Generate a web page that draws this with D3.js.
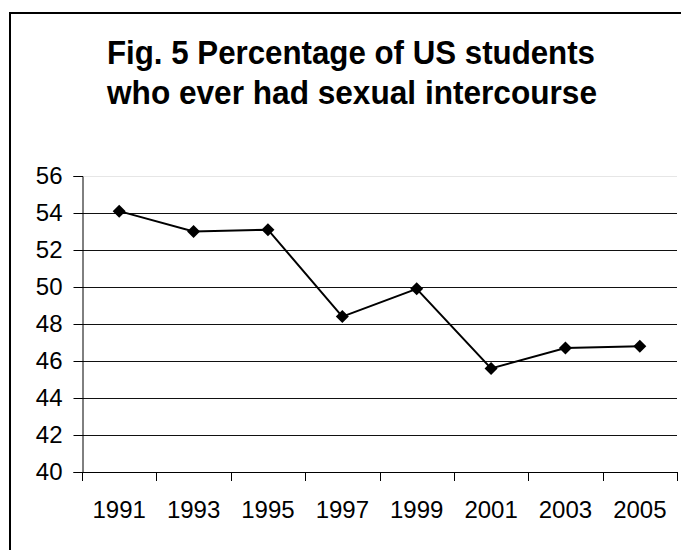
<!DOCTYPE html>
<html>
<head>
<meta charset="utf-8">
<script src="https://cdn.jsdelivr.net/npm/d3@7"></script>
<style>
  html, body { margin: 0; padding: 0; background: #fff; }
  svg { display: block; }
  text { font-family: "Liberation Sans", Arial, Helvetica, sans-serif; fill: #000; }
</style>
</head>
<body>
<svg id="chart" width="681" height="550"></svg>
<script>
const years = ["1991", "1993", "1995", "1997", "1999", "2001", "2003", "2005"];
const values = [54.1, 53.0, 53.1, 48.4, 49.9, 45.6, 46.7, 46.8];
const yTicks = [40, 42, 44, 46, 48, 50, 52, 54, 56];
const titleLines = ["Fig. 5 Percentage of US students", "who ever had sexual intercourse"];

const svg = d3.select("#chart");
const W = 681, H = 550;
const plot = { left: 82, right: 677, top: 176, bottom: 472 };

svg.append("rect").attr("x", 0).attr("y", 0).attr("width", W).attr("height", H).attr("fill", "#fff");

// outer frame (only left and top visible in crop)
svg.append("rect")
  .attr("x", 10).attr("y", 13).attr("width", 720).attr("height", 620)
  .attr("fill", "none").attr("stroke", "#000").attr("stroke-width", 2);

// title
const titleWidths = [488, 490];
titleLines.forEach((t, i) => {
  svg.append("text")
    .attr("x", 107 + titleWidths[i] / 2)
    .attr("y", 63.5 + i * 40.5)
    .attr("text-anchor", "middle")
    .attr("textLength", titleWidths[i])
    .attr("lengthAdjust", "spacingAndGlyphs")
    .style("font-weight", "bold")
    .style("font-size", "32.5px")
    .text(t);
});

const x = d3.scaleBand().domain(years).range([plot.left, plot.right]).padding(0);
const y = d3.scaleLinear().domain([40, 56]).range([plot.bottom, plot.top]);

// gridlines
svg.append("g").selectAll("line")
  .data(yTicks.filter(v => v > 40))
  .join("line")
  .attr("x1", plot.left).attr("x2", plot.right)
  .attr("y1", d => Math.round(y(d)) + 0.5).attr("y2", d => Math.round(y(d)) + 0.5)
  .attr("stroke", d => d === 56 ? "#e6e6e6" : "#111")
  .attr("stroke-width", 1);

// y axis
const yAxis = svg.append("g")
  .attr("transform", `translate(${plot.left + 0.5},0)`)
  .call(d3.axisLeft(y).tickValues(yTicks).tickSize(9).tickPadding(11).tickFormat(d3.format("d")));
yAxis.selectAll("path.domain").attr("stroke", "#000");
yAxis.selectAll(".tick line").attr("stroke", "#000");
yAxis.selectAll("text").style("font-size", "24px").attr("fill", "#000");
yAxis.attr("font-family", null).attr("font-size", null);

// x axis line and boundary ticks
const xg = svg.append("g");
xg.append("line")
  .attr("x1", plot.left).attr("x2", plot.right + 0.5)
  .attr("y1", plot.bottom + 0.5).attr("y2", plot.bottom + 0.5)
  .attr("stroke", "#000");
const bounds = years.map(d => x(d)).concat([x(years[years.length - 1]) + x.bandwidth()]);
xg.selectAll("line.tk")
  .data(bounds)
  .join("line").attr("class", "tk")
  .attr("x1", d => Math.round(d) + 0.5).attr("x2", d => Math.round(d) + 0.5)
  .attr("y1", plot.bottom).attr("y2", plot.bottom + 9)
  .attr("stroke", "#000");

// x labels via band axis
const xAxis = svg.append("g")
  .attr("transform", `translate(0,${plot.bottom})`)
  .call(d3.axisBottom(x).tickSize(0).tickPadding(29));
xAxis.select("path.domain").remove();
xAxis.selectAll("text").style("font-size", "24px").attr("fill", "#000");
xAxis.attr("font-family", null).attr("font-size", null);

// line
const data = years.map((yr, i) => ({ yr, v: values[i] }));
const line = d3.line().x(d => x(d.yr) + x.bandwidth() / 2).y(d => y(d.v));
svg.append("path")
  .datum(data)
  .attr("d", line)
  .attr("fill", "none")
  .attr("stroke", "#000")
  .attr("stroke-width", 2);

// markers
svg.append("g").selectAll("path")
  .data(data)
  .join("path")
  .attr("transform", d => `translate(${x(d.yr) + x.bandwidth() / 2},${y(d.v)})`)
  .attr("d", d3.symbol().type(d3.symbolDiamond2).size(108))
  .attr("fill", "#000");
</script>
</body>
</html>
